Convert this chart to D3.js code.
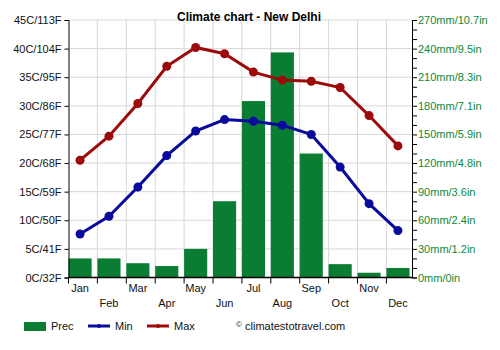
<!DOCTYPE html>
<html><head><meta charset="utf-8">
<script src="https://cdn.jsdelivr.net/npm/d3@7"></script>
<style>body{margin:0;background:#fff}svg{display:block;font-family:"Liberation Sans",Arial,sans-serif}</style>
</head><body><svg id="c" width="500" height="350"></svg>
<script>
const months = ["Jan","Feb","Mar","Apr","May","Jun","Jul","Aug","Sep","Oct","Nov","Dec"];
const prec = [20, 20, 15, 12, 30, 80, 185, 236, 130, 14, 5, 10];
const tMin = [7.6, 10.7, 15.8, 21.3, 25.6, 27.6, 27.3, 26.6, 25.0, 19.3, 12.9, 8.2];
const tMax = [20.5, 24.7, 30.4, 36.9, 40.2, 39.1, 35.9, 34.5, 34.3, 33.2, 28.3, 23.0];
const leftTicks = [0,5,10,15,20,25,30,35,40,45];
const leftLabels = ["0C/32F","5C/41F","10C/50F","15C/59F","20C/68F","25C/77F","30C/86F","35C/95F","40C/104F","45C/113F"];
const rightTicks = [0,30,60,90,120,150,180,210,240,270];
const rightLabels = ["0mm/0in","30mm/1.2in","60mm/2.4in","90mm/3.6in","120mm/4.8in","150mm/5.9in","180mm/7.1in","210mm/8.3in","240mm/9.5in","270mm/10.7in"];

const svg = d3.select("#c");
const L = 68.5, R = 412, T = 20, B = 277.5, step = 28.9;
const x = d3.scaleBand().domain(months).range([L, L + step*12]).paddingInner(0).paddingOuter(0);
const yT = d3.scaleLinear().domain([0,45]).range([B,T]);
const yP = d3.scaleLinear().domain([0,270]).range([B,T]);
const barW = x.bandwidth()*0.8;
const cx = m => x(m) + barW/2;

const green = "#0a7d32", blue = "#0a0a9c", red = "#9c0a0a", grid = "#d8d8d8";

// grid
svg.append("g").selectAll("line").data(leftTicks.slice(1)).join("line")
  .attr("x1", L).attr("x2", R).attr("y1", d=>yT(d)).attr("y2", d=>yT(d))
  .attr("stroke", grid).attr("stroke-width", 1);
svg.append("g").selectAll("line").data(months.slice(1)).join("line")
  .attr("x1", d=>x(d)).attr("x2", d=>x(d)).attr("y1", T).attr("y2", B)
  .attr("stroke", grid).attr("stroke-width", 1);

// bars
svg.append("g").selectAll("rect").data(months).join("rect")
  .attr("x", d=>x(d)).attr("width", barW)
  .attr("y", (d,i)=>yP(prec[i])).attr("height", (d,i)=>B - yP(prec[i]))
  .attr("fill", green);

// left axis
const la = svg.append("g").attr("transform", `translate(${L},0)`)
  .call(d3.axisLeft(yT).tickValues(leftTicks).tickFormat((d,i)=>leftLabels[i]).tickSize(4).tickPadding(3));
la.select(".domain").attr("stroke","#000");
la.selectAll("text").attr("font-size", 11).attr("fill", "#111").attr("font-family","Liberation Sans, Arial, sans-serif");

// right axis
const minor = d3.range(0, 271, 10);
const ra = svg.append("g").attr("transform", `translate(${R},0)`)
  .call(d3.axisRight(yP).tickValues(minor).tickFormat(d => { const k = rightTicks.indexOf(d); return k >= 0 ? rightLabels[k] : ""; }).tickSize(5).tickPadding(1));
ra.select(".domain").attr("stroke","#000");
ra.selectAll("text").attr("font-size", 11).attr("fill", "#0a8a3a").attr("font-family","Liberation Sans, Arial, sans-serif");

// bottom axis
const ba = svg.append("g").attr("transform", `translate(0,${B})`)
  .call(d3.axisBottom(x).tickSize(6).tickFormat(""));
ba.select(".domain").remove();
ba.selectAll(".tick line").attr("transform", `translate(${-x.bandwidth()/2},0)`).attr("stroke","#000");
svg.append("line").attr("x1", L).attr("x2", R).attr("y1", B).attr("y2", B).attr("stroke","#000").attr("stroke-width", 1.5);
svg.append("g").selectAll("text").data(months).join("text")
  .attr("x", d=>cx(d)).attr("y", (d,i)=> i%2===0 ? 292 : 307)
  .attr("text-anchor","middle").attr("font-size", 11).attr("fill","#111").text(d=>d);

// lines
function series(vals, color){
  const line = d3.line().x((d,i)=>cx(months[i])).y(d=>yT(d));
  svg.append("path").datum(vals).attr("d", line).attr("fill","none").attr("stroke", color).attr("stroke-width", 3);
  svg.append("g").selectAll("circle").data(vals).join("circle")
    .attr("cx",(d,i)=>cx(months[i])).attr("cy", d=>yT(d)).attr("r", 4.5).attr("fill", color);
}
series(tMin, blue);
series(tMax, red);

// title
svg.append("text").attr("x", 249).attr("y", 21).attr("text-anchor","middle")
  .attr("font-size", 12).attr("font-weight","bold").attr("fill","#000").text("Climate chart - New Delhi");

// legend
const lg = svg.append("g");
lg.append("rect").attr("x", 24).attr("y", 322).attr("width", 22).attr("height", 9).attr("fill", green);
lg.append("text").attr("x", 51).attr("y", 330).attr("font-size", 11).attr("fill","#111").text("Prec");
[[88, blue, "Min"], [147, red, "Max"]].forEach(([lx, c, t]) => {
  lg.append("line").attr("x1", lx).attr("x2", lx+22).attr("y1", 326).attr("y2", 326).attr("stroke", c).attr("stroke-width", 3);
  lg.append("circle").attr("cx", lx+11).attr("cy", 326).attr("r", 2).attr("fill", c);
  lg.append("text").attr("x", lx+27).attr("y", 330).attr("font-size", 11).attr("fill","#111").text(t);
});
lg.append("text").attr("x", 236).attr("y", 327).attr("font-size", 8).attr("fill","#111").text("©");
lg.append("text").attr("x", 245).attr("y", 330).attr("font-size", 11).attr("fill","#111").text("climatestotravel.com");
</script></body></html>
